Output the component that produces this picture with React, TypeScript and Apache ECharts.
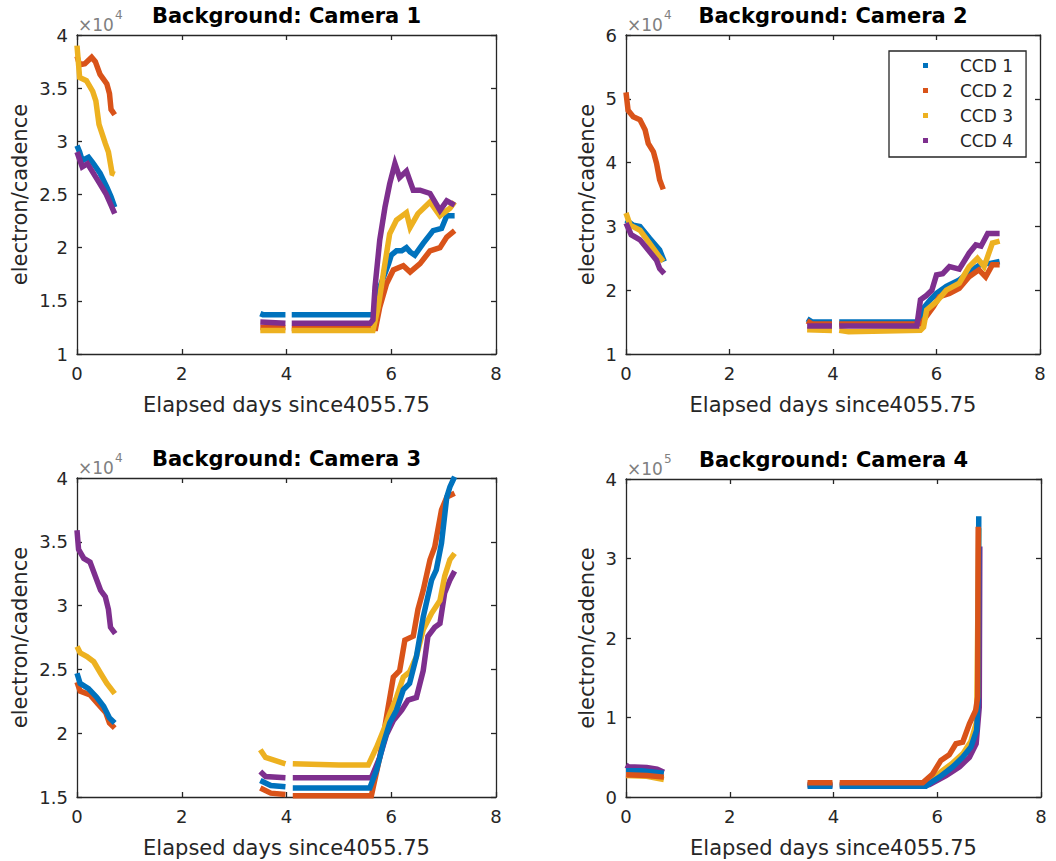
import React, { useEffect, useRef } from 'react';
import * as echarts from 'echarts';

type Pt = [number, number] | null;

const COLORS = ['#0072BD', '#D95319', '#EDB120', '#7E2F8E'];
const CCD_NAMES = ['CCD 1', 'CCD 2', 'CCD 3', 'CCD 4'];
const X_LABEL = 'Elapsed days since4055.75';
const Y_LABEL = 'electron/cadence';
const TITLES = ['Background: Camera 1', 'Background: Camera 2', 'Background: Camera 3', 'Background: Camera 4'];

// ---------- Camera 1 ----------
const cam1_ccd1: Pt[] = [
  [0, 29600], [0.05, 29000], [0.1, 28200], [0.22, 28500], [0.3, 28000], [0.44, 27000], [0.57, 25700], [0.65, 24800], [0.72, 23800],
  null,
  [3.5, 13800], [3.55, 13700], [3.98, 13700],
  null,
  [4.1, 13700], [5.65, 13700], [5.7, 14000], [5.76, 16000], [5.85, 17200], [5.95, 18500], [6.0, 19300], [6.1, 19700], [6.2, 19700],
  [6.29, 20000], [6.36, 19600], [6.45, 19300], [6.61, 20400], [6.8, 21600], [6.96, 21800], [7.06, 23000], [7.21, 23000],
];
const cam1_ccd2: Pt[] = [
  [0, 38000], [0.05, 37200], [0.15, 37300], [0.28, 37900], [0.35, 37500], [0.44, 36300], [0.57, 35400], [0.62, 34500], [0.65, 33000], [0.72, 32500],
  null,
  [3.5, 12500], [3.98, 12500],
  null,
  [4.1, 12400], [5.7, 12400], [5.78, 14400], [5.91, 16600], [6.04, 17900], [6.23, 18300], [6.36, 17700], [6.55, 18500],
  [6.74, 19700], [6.93, 20000], [7.06, 21000], [7.21, 21600],
];
const cam1_ccd3: Pt[] = [
  [0, 39000], [0.05, 36000], [0.18, 35700], [0.3, 34700], [0.36, 33800], [0.42, 31600], [0.54, 29800], [0.6, 29000], [0.67, 27000], [0.72, 26900],
  null,
  [3.5, 12200], [3.98, 12200],
  null,
  [4.1, 12200], [5.65, 12200], [5.75, 14400], [5.85, 17600], [5.97, 21300], [6.1, 22600], [6.29, 23300], [6.36, 21900], [6.51, 23200],
  [6.74, 24300], [6.93, 23000], [7.12, 23700], [7.21, 24300],
];
const cam1_ccd4: Pt[] = [
  [0, 29000], [0.1, 27600], [0.2, 27900], [0.4, 26300], [0.55, 25100], [0.65, 24000], [0.72, 23200],
  null,
  [3.5, 13000], [3.98, 12900],
  null,
  [4.1, 12900], [5.6, 12900], [5.65, 13200], [5.69, 16300], [5.78, 20700], [5.88, 23800], [5.97, 26000], [6.07, 27900], [6.16, 26600],
  [6.29, 27200], [6.42, 25400], [6.55, 25400], [6.74, 25100], [6.93, 23500], [7.06, 24400], [7.21, 24000],
];

// ---------- Camera 2 ----------
const cam2_ccd1: Pt[] = [
  [0, 31000], [0.14, 30200], [0.27, 30000], [0.46, 28100], [0.65, 26300], [0.74, 24500],
  null,
  [3.5, 15500], [3.6, 15000], [3.98, 15000],
  null,
  [4.12, 15000], [5.69, 15000], [5.72, 16900], [5.88, 18500], [6.0, 19500], [6.19, 20600], [6.44, 21600], [6.69, 23200],
  [6.88, 24200], [7.04, 24200], [7.22, 24500],
];
const cam2_ccd2: Pt[] = [
  [0, 51000], [0.04, 48200], [0.14, 47200], [0.27, 46700], [0.37, 45100], [0.43, 43000], [0.53, 41700], [0.59, 39900], [0.65, 37300], [0.72, 35800],
  null,
  [3.5, 15200], [3.6, 14700], [3.98, 14700],
  null,
  [4.12, 14700], [5.72, 14700], [5.75, 15300], [5.94, 17400], [6.06, 19000], [6.25, 19500], [6.44, 20300], [6.63, 22100],
  [6.82, 23200], [6.95, 22100], [7.08, 24000], [7.22, 24000],
];
const cam2_ccd3: Pt[] = [
  [0, 32100], [0.08, 30200], [0.27, 29400], [0.46, 27300], [0.65, 25200], [0.72, 24500],
  null,
  [3.5, 13800], [3.98, 13700],
  null,
  [4.12, 13700], [4.3, 13500], [5.69, 13700], [5.75, 14200], [5.81, 16900], [6.0, 18200], [6.19, 20000], [6.44, 21100],
  [6.63, 23700], [6.79, 25000], [6.92, 23700], [7.08, 27400], [7.22, 27700],
];
const cam2_ccd4: Pt[] = [
  [0, 30500], [0.1, 28700], [0.27, 27900], [0.43, 26300], [0.59, 24700], [0.65, 23400], [0.74, 22600],
  null,
  [3.5, 14400], [3.98, 14400],
  null,
  [4.12, 14400], [5.62, 14400], [5.69, 18500], [5.81, 19200], [5.91, 20000], [6.0, 22400], [6.12, 22600], [6.25, 23700],
  [6.44, 23300], [6.63, 25800], [6.76, 27100], [6.86, 26900], [6.99, 28900], [7.22, 28900],
];

// ---------- Camera 3 ----------
const cam3_ccd1: Pt[] = [
  [0, 24700], [0.06, 23900], [0.22, 23500], [0.38, 22800], [0.51, 22100], [0.62, 21200], [0.72, 20800],
  null,
  [3.5, 16300], [3.7, 15900], [3.98, 15800],
  null,
  [4.12, 15700], [5.59, 15700], [5.72, 17100], [5.85, 19200], [5.97, 20800], [6.1, 21800], [6.23, 23400], [6.35, 23900],
  [6.48, 26000], [6.61, 29100], [6.77, 32000], [6.86, 32800], [6.96, 34900], [7.06, 38500], [7.12, 39300], [7.21, 40100],
];
const cam3_ccd2: Pt[] = [
  [0, 24000], [0.06, 23300], [0.25, 23000], [0.4, 22300], [0.55, 21600], [0.62, 20800], [0.72, 20400],
  null,
  [3.5, 15700], [3.7, 15300], [3.98, 15200],
  null,
  [4.12, 15100], [5.62, 15100], [5.78, 18100], [5.91, 21300], [6.04, 24400], [6.16, 24900], [6.26, 27300], [6.42, 27600],
  [6.51, 29700], [6.61, 31200], [6.74, 33600], [6.83, 34600], [6.96, 37500], [7.06, 38500], [7.21, 38800],
];
const cam3_ccd3: Pt[] = [
  [0, 26800], [0.06, 26300], [0.19, 26000], [0.32, 25600], [0.45, 24700], [0.57, 23900], [0.72, 23100],
  null,
  [3.5, 18700], [3.6, 18100], [3.98, 17600],
  null,
  [4.12, 17600], [5.0, 17500], [5.56, 17500], [5.72, 18900], [5.85, 20200], [5.97, 21500], [6.1, 22800], [6.23, 24400],
  [6.35, 24800], [6.48, 26000], [6.61, 28100], [6.77, 29400], [6.93, 30400], [7.02, 32300], [7.12, 33600], [7.21, 34100],
];
const cam3_ccd4: Pt[] = [
  [0, 35900], [0.03, 34400], [0.13, 33700], [0.25, 33400], [0.35, 32300], [0.45, 31200], [0.54, 30700], [0.6, 29700], [0.64, 28300], [0.73, 27800],
  null,
  [3.5, 17000], [3.6, 16600], [3.98, 16500],
  null,
  [4.12, 16500], [5.62, 16500], [5.78, 18100], [5.91, 19900], [6.04, 21000], [6.2, 21800], [6.32, 22600], [6.48, 22800],
  [6.61, 24900], [6.7, 27600], [6.83, 28300], [6.93, 28600], [7.02, 31000], [7.12, 32000], [7.21, 32700],
];

// ---------- Camera 4 ----------
const cam4_ccd1: Pt[] = [
  [0, 33000], [0.3, 33000], [0.73, 30000],
  null,
  [3.5, 13500], [3.98, 13500],
  null,
  [4.12, 13500], [5.78, 13500], [5.85, 17000], [6.04, 25000], [6.3, 38000], [6.49, 50000], [6.65, 63000], [6.76, 84000],
  [6.79, 130000], [6.8, 353000],
];
const cam4_ccd2: Pt[] = [
  [0, 28000], [0.4, 27000], [0.73, 25000],
  null,
  [3.5, 18000], [3.98, 18000],
  null,
  [4.12, 18000], [5.72, 18000], [5.91, 29000], [6.07, 46000], [6.23, 53000], [6.36, 67000], [6.49, 69000], [6.62, 92000],
  [6.74, 109000], [6.78, 126000], [6.79, 340000],
];
const cam4_ccd3: Pt[] = [
  [0, 27000], [0.4, 26000], [0.73, 22000],
  null,
  [3.5, 16000], [3.98, 16000],
  null,
  [4.12, 16000], [5.75, 16000], [5.9, 22000], [6.1, 33000], [6.3, 43000], [6.5, 55000], [6.65, 70000], [6.76, 95000],
  [6.8, 338000],
];
const cam4_ccd4: Pt[] = [
  [0, 40000], [0.05, 38000], [0.4, 37000], [0.6, 35000], [0.73, 31000],
  null,
  [3.5, 15000], [3.98, 15000],
  null,
  [4.12, 15000], [5.8, 15000], [5.85, 15500], [6.17, 27000], [6.43, 38000], [6.62, 50000], [6.75, 67000], [6.81, 113000],
  [6.82, 315000],
];

const X_MIN = 0;
const X_MAX = 8;
const X_STEP = 2;

const PANELS = [
  { title: TITLES[0], exp: '4', yMin: 10000, yMax: 40000, yStep: 5000, div: 1e4, data: [cam1_ccd1, cam1_ccd2, cam1_ccd3, cam1_ccd4], order: [0, 1, 2, 3] },
  { title: TITLES[1], exp: '4', yMin: 10000, yMax: 60000, yStep: 10000, div: 1e4, data: [cam2_ccd1, cam2_ccd2, cam2_ccd3, cam2_ccd4], order: [0, 1, 2, 3] },
  { title: TITLES[2], exp: '4', yMin: 15000, yMax: 40000, yStep: 5000, div: 1e4, data: [cam3_ccd1, cam3_ccd2, cam3_ccd3, cam3_ccd4], order: [1, 3, 2, 0] },
  { title: TITLES[3], exp: '5', yMin: 0, yMax: 400000, yStep: 100000, div: 1e5, data: [cam4_ccd1, cam4_ccd2, cam4_ccd3, cam4_ccd4], order: [2, 3, 0, 1] },
];

// layout
const GRIDS = [
  { left: 77, top: 35, width: 419, height: 319 },
  { left: 626, top: 35, width: 414, height: 319 },
  { left: 77, top: 478, width: 419, height: 319 },
  { left: 626, top: 479, width: 415, height: 318 },
];
const Y_NAME_GAP = [47, 29, 47, 29];

const FONT = 'DejaVu Sans';
const AX = '#262626';

function toData(pts: Pt[]) {
  const out: any[] = [];
  pts.forEach((p, i) => {
    if (p === null) {
      const prev = pts[i - 1] as [number, number];
      out.push([prev[0] + 0.01, NaN]);
    } else out.push(p);
  });
  return out;
}

export default function App() {
  const ref = useRef<HTMLDivElement>(null);
  useEffect(() => {
    if (!ref.current) return;
    const chart = echarts.init(ref.current, undefined, { renderer: 'svg' });
    const xAxis: any[] = [];
    const yAxis: any[] = [];
    const series: any[] = [];
    const graphic: any[] = [];
    const axisLine = { show: true, onZero: false, lineStyle: { color: AX, width: 1.3 } };
    const axisTick = { show: true, inside: true, length: 5, lineStyle: { color: AX, width: 1.3 } };

    PANELS.forEach((p, i) => {
      const g = GRIDS[i];
      const fmt = (v: number) => String(Math.round((v / p.div) * 10) / 10);
      xAxis.push({
        type: 'value', gridIndex: i, position: 'bottom', min: X_MIN, max: X_MAX, interval: X_STEP,
        axisLine, axisTick, splitLine: { show: false },
        axisLabel: { color: AX, fontSize: 18, fontFamily: FONT, margin: 10, showMinLabel: true, showMaxLabel: true },
        name: X_LABEL, nameLocation: 'middle', nameGap: 40,
        nameTextStyle: { color: AX, fontSize: 21, fontFamily: FONT },
      });
      xAxis.push({
        type: 'value', gridIndex: i, position: 'top', min: X_MIN, max: X_MAX, interval: X_STEP,
        axisLine, axisTick, splitLine: { show: false }, axisLabel: { show: false },
      });
      yAxis.push({
        type: 'value', gridIndex: i, position: 'left', min: p.yMin, max: p.yMax, interval: p.yStep,
        axisLine, axisTick, splitLine: { show: false },
        axisLabel: { color: AX, fontSize: 18, fontFamily: FONT, margin: 9, formatter: fmt, showMinLabel: true, showMaxLabel: true },
        name: Y_LABEL, nameLocation: 'middle', nameGap: Y_NAME_GAP[i],
        nameTextStyle: { color: AX, fontSize: 21, fontFamily: FONT },
      });
      yAxis.push({
        type: 'value', gridIndex: i, position: 'right', min: p.yMin, max: p.yMax, interval: p.yStep,
        axisLine, axisTick, splitLine: { show: false }, axisLabel: { show: false },
      });
      p.data.forEach((d, k) => {
        series.push({
          type: 'line', name: CCD_NAMES[k], xAxisIndex: 2 * i, yAxisIndex: 2 * i,
          data: toData(d), showSymbol: false, symbol: 'none', connectNulls: false, clip: true,
          color: COLORS[k], itemStyle: { color: COLORS[k] },
          lineStyle: { color: COLORS[k], width: 5.5, cap: 'butt', join: 'miter' },
          z: 3 + p.order.indexOf(k), silent: true,
        });
      });
      // title
      graphic.push({
        type: 'text', x: g.left + g.width / 2, y: g.top - 19,
        style: { text: p.title, fill: '#000', font: `bold 21px "${FONT}"`, align: 'center', verticalAlign: 'middle' },
      });
      // exponent
      graphic.push({
        type: 'text', x: g.left + 1, y: g.top - 10,
        style: { text: '×10', fill: '#808080', font: `17px "${FONT}"`, align: 'left', verticalAlign: 'middle' },
      });
      graphic.push({
        type: 'text', x: g.left + 38, y: g.top - 20,
        style: { text: p.exp, fill: '#808080', font: `12px "${FONT}"`, align: 'left', verticalAlign: 'middle' },
      });
    });

    chart.setOption({
      animation: false,
      backgroundColor: '#ffffff',
      grid: GRIDS.map((g) => ({ ...g, containLabel: false })),
      xAxis,
      yAxis,
      series,
      graphic,
      legend: {
        show: true, data: CCD_NAMES, orient: 'vertical', left: 889, top: 51,
        icon: 'rect', itemWidth: 5, itemHeight: 5, itemGap: 8,
        padding: [6, 13, 8, 34], borderColor: AX, borderWidth: 1.3, backgroundColor: '#fff',
        selectedMode: false,
        textStyle: { color: AX, fontSize: 17, fontFamily: FONT, lineHeight: 17, padding: [0, 0, 0, 27] },
      },
    });
    return () => chart.dispose();
  }, []);
  return <div ref={ref} style={{ position: 'absolute', left: 0, top: 0, width: 1056, height: 861, background: '#fff' }} />;
}
